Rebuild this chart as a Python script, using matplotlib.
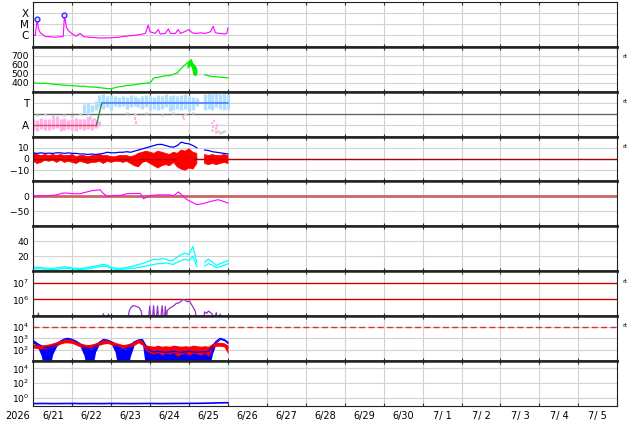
import numpy as np
import matplotlib.pyplot as plt
from matplotlib.ticker import NullLocator

nan = np.nan

# time axis: days after 6/21 00:00, data runs for 5 days
t10 = np.round(np.arange(0, 5.01, 0.1), 2)
day_labels = ['6/21', '6/22', '6/23', '6/24', '6/25', '6/26', '6/27', '6/28',
              '6/29', '6/30', '7/ 1', '7/ 2', '7/ 3', '7/ 4', '7/ 5']

# panel 1: X-ray flux, log10
xray_t = [0.0, 0.05, 0.10, 0.13, 0.18, 0.26, 0.31, 0.44, 0.56, 0.69, 0.77, 0.80, 0.85, 0.90,
          1.0, 1.1, 1.2, 1.3, 1.46, 1.72, 1.98, 2.18, 2.36, 2.54, 2.75, 2.88, 2.95, 3.0,
          3.13, 3.21, 3.26, 3.39, 3.47, 3.52, 3.65, 3.72, 3.78, 3.85, 4.0, 4.08, 4.19,
          4.29, 4.42, 4.55, 4.62, 4.68, 4.80, 4.92, 4.97, 5.0]
xray_v = [-6.0, -6.05, -4.57, -5.4, -5.8, -6.0, -6.15, -6.15, -6.2, -6.15, -6.1, -4.18, -5.3, -5.6,
          -5.9, -6.1, -5.85, -6.15, -6.2, -6.27, -6.25, -6.2, -6.1, -6.05, -5.95, -5.85, -5.1, -5.7,
          -5.85, -5.5, -5.9, -5.85, -5.45, -5.85, -5.85, -5.5, -5.85, -5.75, -5.5, -5.8, -5.85,
          -5.8, -5.85, -5.7, -5.2, -5.8, -5.85, -5.9, -5.85, -5.36]
flare_t = [0.10, 0.80]
flare_v = [-4.57, -4.18]

# panel 2: solar wind speed
speed = [400, 395, 392, 395, 390, 385, 380, 378, 372, 370,
         368, 365, 360, 362, 355, 352, 350, 345, 340, 335,
         333, 345, 355, 360, 370, 372, 378, 385, 390, 395,
         400, 455, 460, 470, 478, 480, 495, 510, 560, 600,
         640, 560, 520, nan, 490, 478, 470, 465, 462, 458,
         455]
burst_t = [3.95, 4.0, 4.05, 4.1, 4.15, 4.2]
burst_lo = [560, 580, 600, 490, 480, 490]
burst_hi = [620, 650, 675, 620, 600, 560]

# panel 3: A / T state
pink_t = np.round(np.arange(0, 1.71, 0.1), 2)
pink_hi = [0.30, 0.25, 0.35, 0.30, 0.28, 0.35, 0.40, 0.30, 0.33, 0.25, 0.30, 0.35, 0.28, 0.30, 0.38, 0.30, 0.25, 0.20]
pink_lo = [-0.20, -0.25, -0.15, -0.20, -0.22, -0.18, -0.10, -0.25, -0.20, -0.15, -0.20, -0.25, -0.18, -0.22, -0.15, -0.20, -0.10, -0.05]
sky_t = np.round(np.arange(1.3, 5.01, 0.1), 2)
sky_hi = [0.95, 1.00, 0.90, 1.10, 1.35, 1.40, 1.30, 1.35, 1.30, 1.25, 1.30, 1.25, 1.35, 1.30, 1.20,
          1.30, 1.35, 1.30, 1.25, 1.35, 1.30, 1.40, 1.30, 1.35, 1.30, 1.35, 1.40, 1.30, 1.25, 1.20,
          nan, 1.40, 1.45, 1.40, 1.45, 1.40, 1.45, 1.40]
sky_lo = [0.55, 0.50, 0.60, 0.70, 0.80, 0.75, 0.80, 0.70, 0.85, 0.80, 0.85, 0.75, 0.80, 0.85, 0.80,
          0.75, 0.80, 0.70, 0.75, 0.70, 0.75, 0.80, 0.65, 0.70, 0.75, 0.70, 0.75, 0.65, 0.70, 0.85,
          nan, 0.70, 0.75, 0.70, 0.80, 0.75, 0.70, 0.75]
gray_t = [0.1, 0.3, 0.5, 0.8, 1.0, 1.2, 1.45, 1.55, 2.4, 2.6, 2.9, 3.3, 3.6, 3.9, 4.1, 4.6, 4.7, 4.75, 4.8, 4.85, 4.9]
gray_v = [0.45, 0.50, 0.40, 0.45, 0.42, 0.50, 0.35, 0.30, 0.55, 0.50, 0.55, 0.45, 0.55, 0.50, 0.55,
          -0.20, -0.30, -0.25, -0.35, -0.30, -0.25]
pink2_t = [2.62, 2.65, 3.84, 3.86, 4.6, 4.62, 4.65, 4.68, 4.7, 4.72]
pink2_v = [0.30, 0.12, 0.40, 0.28, 0.10, -0.05, 0.20, -0.15, -0.30, 0.0]
state_t = [0.0, 1.62, 1.76, 5.0]
state_v = [0, 0, 1, 1]

# panel 4: IMF Bt and Bz
bt = [5.5, 5, 5.5, 5, 5.2, 5, 5.5, 5.5, 5, 5.5,
      5, 5, 4.5, 4.5, 4, 4.5, 4, 4.5, 5, 6,
      5.5, 5.5, 6, 6, 6.5, 6, 7, 8, 9, 10,
      11, 12, 13, 13, 12, 11, 10.5, 12, 15, 14,
      13.5, 12, 10, nan, 8, 7.5, 6.5, 6, 5.5, 5,
      4.5]
bz = [2, 1, 1, 2, 1, 2, 1, 2, 0, 1,
      1, 0, 1, 1, 0, 1, 0, 1, 0, 1,
      0, 0, 1, 0, 1, 0, -1, 0, 2, 3,
      2, 0, 1, 0, 1, 0, 1, 0, -1, 0,
      -1, 0, 1, nan, 0, 0, 1, 0, 0, 1,
      0]
bz_lo = [-2, -4, -3, -1, -2, -1, -3, -1, -3, -2,
         -3, -4, -2, -3, -4, -3, -3, -2, -4, -2,
         -3, -2, -2, -3, -2, -4, -6, -7, -3, -2,
         -4, -6, -8, -6, -5, -6, -3, -7, -9, -10,
         -8, -9, -4, nan, -4, -5, -4, -5, -4, -3,
         -4]
bz_hi = [5, 4, 3, 4, 3, 4, 3, 4, 3, 3,
         4, 2, 3, 3, 2, 3, 3, 4, 3, 3,
         2, 2, 3, 3, 3, 2, 3, 5, 6, 7,
         6, 5, 7, 6, 5, 4, 6, 5, 8, 7,
         9, 6, 5, nan, 4, 3, 4, 3, 3, 4,
         3]

# panel 5: Dst
dst_t = [0.0, 0.2, 0.44, 0.6, 0.75, 0.87, 1.0, 1.2, 1.35, 1.5, 1.72, 1.77, 1.9, 2.06, 2.24,
         2.4, 2.75, 2.83, 3.0, 3.2, 3.5, 3.6, 3.73, 3.82, 3.95, 4.2, 4.37, 4.55, 4.75, 5.0]
dst_v = [1, 2, 3, 5, 11, 11, 9, 9, 14, 19, 22, 13, 0, 3, 3,
         9, 10, -8, 3, 5, 5, 2, 15, 3, -11, -28, -24, -17, -11, -22]

# panel 6: density (two traces)
dens_a = [6, 5, 5, 4, 4, 3.5, 4, 5, 6, 5,
          4, 4, 3.5, 4, 5, 6, 7, 8, 9, 8,
          5, 4, 3.5, 4, 5, 6, 7, 9, 10, 12,
          14, 16, 15, 17, 16, 14, 15, 19, 22, 24,
          22, 33, 12, nan, 12, 16, 12, 8, 10, 12,
          14]
dens_b = [4, 3, 3, 2.5, 2.5, 2, 2.5, 3, 4, 3.5,
          3, 2.5, 2, 2.5, 3, 4, 5, 6, 7, 6,
          3.5, 2.5, 2, 2.5, 3, 4, 4, 5, 6, 7,
          8, 9, 10, 10, 11, 10, 9, 12, 14, 16,
          14, 20, 6, nan, 7, 10, 8, 5, 6, 8,
          10]

# panel 7: log10 flux (purple), values below 5 fall off the axis
purp_t = [0.10, 0.13, 0.16, 1.78, 1.80, 1.83, 1.90, 1.93, 1.96, 2.42, 2.47, 2.52, 2.57, 2.62, 2.67,
          2.72, 2.77, 2.80, 2.96, 2.99, 3.02, 3.06, 3.09, 3.12, 3.16, 3.19, 3.22, 3.27, 3.31,
          3.34, 3.37, 3.39, 3.42, 3.44, 3.52, 3.60, 3.67, 3.75, 3.80, 3.85, 3.90, 3.96, 4.01,
          4.06, 4.11, 4.16, 4.19, 4.37, 4.40, 4.45, 4.50, 4.55, 4.60, 4.65, 4.70, 4.73, 4.78,
          4.80, 4.83]
purp_v = [4.8, 5.18, 4.8, 4.8, 5.14, 4.8, 4.8, 5.12, 4.8, 4.8, 5.35, 5.55, 5.62, 5.6, 5.55,
          5.5, 5.3, 4.8, 4.8, 5.6, 4.8, 4.8, 5.62, 4.8, 4.8, 5.6, 4.8, 4.8, 5.62,
          4.8, 4.8, 5.58, 4.8, 5.33, 5.5, 5.6, 5.75, 5.8, 5.9, 6.0, 5.95, 5.85, 5.9,
          5.7, 5.5, 5.3, 4.8, 4.8, 5.25, 5.15, 5.3, 5.2, 5.1, 4.8, 5.2, 4.8, 4.8,
          5.12, 4.8]

# panel 8: electrons (blue) and protons (red), log10
elec = [2.8, 2.55, 2.35, 2.2, 2.2, 2.3, 2.5, 2.75, 2.95, 3.0,
        2.9, 2.75, 2.5, 2.25, 2.1, 2.05, 2.3, 2.65, 2.9, 2.85,
        2.7, 2.45, 2.2, 2.0, 2.1, 2.4, 2.7, 2.85, 2.9, 2.3,
        1.9, 1.8, 1.85, 1.8, 1.75, 1.8, 1.85, 1.8, 1.75, 1.8,
        1.85, 1.8, 1.75, 1.8, 1.8, 1.85, 2.3, 2.75, 3.0, 2.9,
        2.65]
elec_lo = [2.6, 2.3, 1.5, 0, 0, 1.6, 2.3, 2.6, 2.85, 2.9,
           2.8, 2.6, 2.3, 1.5, 0, 0, 1.8, 2.5, 2.8, 2.75,
           2.5, 1.8, 0, 0, 0, 1.5, 2.5, 2.75, 2.6, 0,
           0, 0, 0, 0, 0, 0, 0, 0, 0, 0,
           0, 0, 0, 0, 0, 0, 1.6, 2.6, 2.9, 2.8,
           2.5]
prot = [2.35, 2.3, 2.25, 2.3, 2.35, 2.45, 2.55, 2.7, 2.8, 2.8,
        2.75, 2.6, 2.45, 2.35, 2.3, 2.35, 2.45, 2.6, 2.7, 2.75,
        2.65, 2.5, 2.4, 2.3, 2.35, 2.45, 2.6, 2.8, 2.65, 2.2,
        2.15, 2.1, 2.2, 2.1, 2.15, 2.1, 2.2, 2.15, 2.1, 2.15,
        2.1, 2.2, 2.15, 2.1, 2.15, 2.1, 2.4, 2.5, 2.5, 2.45,
        2.2]
prot_lo = [2.15, 2.1, 2.05, 2.1, 2.15, 2.25, 2.35, 2.5, 2.6, 2.6,
           2.55, 2.4, 2.25, 2.15, 2.1, 2.15, 2.25, 2.4, 2.5, 2.55,
           2.45, 2.3, 2.2, 2.1, 2.15, 2.25, 2.4, 2.6, 2.4, 1.9,
           1.7, 1.6, 1.75, 1.5, 1.7, 1.6, 1.75, 1.4, 1.6, 1.7,
           1.5, 1.7, 1.6, 1.5, 1.7, 1.4, 2.2, 2.3, 2.3, 2.25,
           1.6]
prot_hi = [2.5, 2.45, 2.4, 2.45, 2.5, 2.6, 2.7, 2.85, 2.95, 2.95,
           2.9, 2.75, 2.6, 2.5, 2.45, 2.5, 2.6, 2.75, 2.85, 2.9,
           2.8, 2.65, 2.55, 2.45, 2.5, 2.6, 2.75, 2.95, 2.8, 2.4,
           2.35, 2.3, 2.4, 2.3, 2.35, 2.3, 2.4, 2.35, 2.3, 2.35,
           2.3, 2.4, 2.35, 2.3, 2.35, 2.3, 2.55, 2.65, 2.65, 2.6,
           2.4]

# panel 9: low flux, log10
low_t = np.round(np.arange(0, 5.01, 0.25), 2)
low_v = [-0.72, -0.70, -0.72, -0.71, -0.70, -0.72, -0.71, -0.72, -0.70, -0.71, -0.72,
         -0.71, -0.70, -0.72, -0.71, -0.70, -0.69, -0.68, -0.66, -0.62, -0.60]

fig = plt.figure(figsize=(6.34, 4.24), dpi=100)
gs = fig.add_gridspec(9, 1, left=33.3/634, right=617.3/634, top=1-2/424, bottom=1-405.7/424, hspace=0)
axs = []
for i in range(9):
    ax = fig.add_subplot(gs[i], sharex=axs[0] if axs else None)
    axs.append(ax)

gridc = '#d2d2d2'
for i, ax in enumerate(axs):
    ax.set_xlim(0, 15)
    ax.set_xticks(np.arange(0, 16))
    ax.set_xticks(np.arange(0.5, 15), minor=True)
    ax.grid(True, which='major', axis='x', color=gridc, lw=0.8)
    ax.grid(True, which='major', axis='y', color=gridc, lw=0.8)
    ax.tick_params(axis='x', which='major', direction='in', length=2, top=True,
                   labelbottom=False, color='#333333')
    ax.tick_params(axis='x', which='minor', length=0, labelbottom=(i == 8), labelsize=7, pad=4)
    ax.tick_params(axis='y', which='both', length=0, labelsize=6.6, pad=3)
    ax.spines['left'].set_linewidth(0.8)
    ax.spines['right'].set_linewidth(0.8)
    ax.spines['top'].set_linewidth(0.8 if i == 0 else 1.8)
    ax.spines['bottom'].set_linewidth(0.8 if i == 8 else 1.8)
    for s in ax.spines.values():
        s.set_color('#222222')
    ax.set_axisbelow(True)
axs[8].set_xticklabels(day_labels, minor=True)
fig.text(18/634, 1 - 416/424, '2026', ha='center', va='center', fontsize=7)

# 1 X-ray
ax = axs[0]
ax.set_yscale('log')
ax.plot(xray_t, 10**np.array(xray_v), color='#ff00ff', lw=0.8)
ax.plot(flare_t, 10**np.array(flare_v), 'o', mfc='#ddddff', mec='#2222ff', ms=3.5, mew=0.9)
ax.set_ylim(8.5e-8, 1e-3)
ax.set_yticks([1e-6, 1e-5, 1e-4])
ax.set_yticklabels(['C', 'M', 'X'], fontsize=7.5)
ax.yaxis.set_minor_locator(NullLocator())

# 2 speed
ax = axs[1]
ax.plot(t10, speed, color='#00ee00', lw=0.9)
ax.fill_between(burst_t, burst_lo, burst_hi, color='#00ee00', lw=0)
ax.set_ylim(300, 800)
ax.set_yticks([400, 500, 600, 700])

# 3 state
ax = axs[2]
ax.axhline(0.5, color='#666666', lw=1)
ax.vlines(gray_t, np.array(gray_v) - 0.05, np.array(gray_v) + 0.05, color='#cccccc', lw=2)
ax.vlines(pink_t, pink_lo, pink_hi, color='#ffb0f0', lw=2.4)
ax.vlines(sky_t, sky_lo, sky_hi, color='#b0e0ff', lw=2.4)
ax.vlines(pink2_t, np.array(pink2_v) - 0.06, np.array(pink2_v) + 0.06, color='#ffb0f0', lw=1.5)
ax.plot(state_t[0:2], state_v[0:2], color='#e05050', lw=1)
ax.plot(state_t[1:3], state_v[1:3], color='#3a8a3a', lw=1)
ax.plot(state_t[2:4], state_v[2:4], color='#5577ff', lw=1.2)
ax.set_ylim(-0.5, 1.5)
ax.set_yticks([0, 1])
ax.set_yticklabels(['A', 'T'], fontsize=7.5)

# 4 Bt / Bz
ax = axs[3]
ax.axhline(0, color='#aa0000', lw=1)
ax.fill_between(t10, bz_lo, bz_hi, color='#ff0000', lw=0.6, edgecolor='#ff0000')
ax.plot(t10, bz, color='#ff0000', lw=1)
ax.plot(t10, bt, color='#0000ff', lw=0.9)
ax.set_ylim(-20, 20)
ax.set_yticks([-10, 0, 10])

# 5 Dst
ax = axs[4]
ax.axhline(0, color='#cc6666', lw=2)
ax.plot(dst_t, dst_v, color='#ff00ff', lw=0.8)
ax.set_ylim(-100, 50)
ax.set_yticks([-50, 0])

# 6 density
ax = axs[5]
ax.plot(t10, dens_a, color='#00ffff', lw=0.9)
ax.plot(t10, dens_b, color='#00ffff', lw=0.9)
ax.set_ylim(0, 60)
ax.set_yticks([20, 40])

# 7 purple flux
ax = axs[6]
ax.set_yscale('log')
ax.axhline(1e6, color='#cc0000', lw=1)
ax.axhline(1e7, color='#cc0000', lw=1)
ax.plot(purp_t, 10**np.array(purp_v), color='#9932cc', lw=0.9)
ax.set_ylim(1e5, 5e7)
ax.set_yticks([1e6, 1e7])
ax.yaxis.set_minor_locator(NullLocator())
ax.grid(False, axis='y')

# 8 electrons / protons
ax = axs[7]
ax.set_yscale('log')
ax.axhline(1e4, color='#dd3333', lw=1, ls=(0, (4.3, 2.4)))
ax.fill_between(t10, 10**np.array(elec_lo), 10**np.array(elec), color='#0000ff', lw=0)
ax.plot(t10, 10**np.array(elec), color='#0000ff', lw=1)
ax.fill_between(t10, 10**np.array(prot_lo), 10**np.array(prot_hi), color='#ff0000', lw=0)
ax.plot(t10, 10**np.array(prot), color='#ff0000', lw=1)
ax.set_ylim(10, 1e5)
ax.set_yticks([1e2, 1e3, 1e4])
ax.yaxis.set_minor_locator(NullLocator())

# 9 low flux
ax = axs[8]
ax.set_yscale('log')
ax.plot(low_t, 10**np.array(low_v), color='#0000ff', lw=1.2)
ax.set_ylim(0.1, 1e5)
ax.set_yticks([1e0, 1e2, 1e4])
ax.yaxis.set_minor_locator(NullLocator())

for k in [1, 2, 3, 6, 7]:
    axs[k].text(1.008, 0.78, 'rt', transform=axs[k].transAxes, fontsize=4.5, va='center')

fig.savefig('out.png', dpi=100)
